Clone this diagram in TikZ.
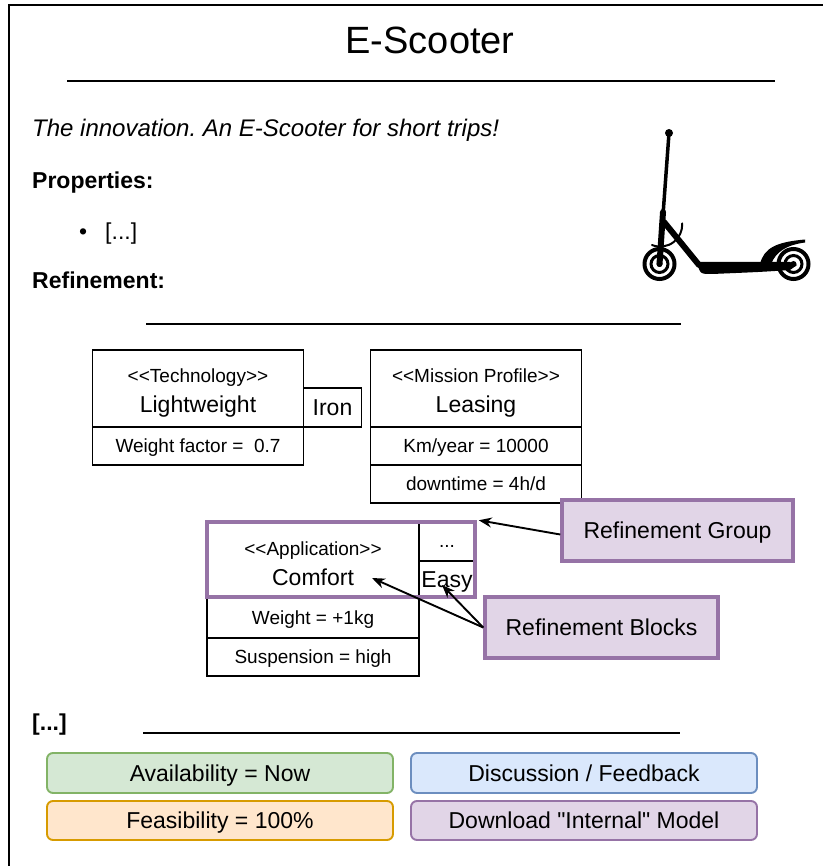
\documentclass[tikz,border=0pt]{standalone}
\usepackage{fontspec}
\setmainfont{Liberation Sans}[Ligatures=TeXOff]
\usetikzlibrary{arrows.meta}
\frenchspacing

\definecolor{grpfill}{HTML}{E1D5E7}
\definecolor{grpline}{HTML}{9673A6}
\definecolor{nowfill}{HTML}{D5E8D4}
\definecolor{nowline}{HTML}{82B366}
\definecolor{talkfill}{HTML}{DAE8FC}
\definecolor{talkline}{HTML}{6C8EBF}
\definecolor{feasfill}{HTML}{FFE6CC}
\definecolor{feasline}{HTML}{D79B00}

\newcommand{\stereo}[1]{{\fontsize{19}{30}\selectfont\rule{0pt}{23pt}<{}<#1>{}>}}
\newcommand{\bigtext}{\fontsize{23}{30}\selectfont}

\begin{document}
\begin{tikzpicture}[x=1pt,y=-1pt,
    cell/.style={draw,line width=1.9pt,inner sep=0pt,outer sep=0pt,fill=white,
      font=\fontsize{19}{30}\selectfont},
    attr/.style={cell,text height=13.7pt,text depth=0pt},
    note/.style={draw=grpline,fill=grpfill,line width=3.5pt,inner sep=0pt,
      minimum height=61,font=\bigtext,text height=16.5pt,text depth=0pt},
    button/.style={draw,line width=1.9pt,rounded corners=6pt,inner sep=0pt,
      minimum width=346,font=\bigtext,text height=16.5pt,text depth=0pt},
    pointer/.style={draw,line width=1.9pt,-{Stealth[length=13pt,width=10pt]}}]

      \useasboundingbox (0,0) rectangle (822,866);
      \draw[line width=2.4pt] (830,5) -| (9,875);

      \node[font=\fontsize{38}{44}\selectfont] (title) at (430,40) {E-Scooter};
      \draw[line width=1.9pt] (67,81) -- (775,81);

      \begin{scope}[every node/.style={anchor=west,inner sep=0pt,text height=16.5pt,
          text depth=0pt,font=\fontsize{23}{28}\selectfont}]
        \node[font=\fontsize{24}{28}\selectfont] (intro) at (32,128)
          {\itshape The innovation. An E-Scooter for short trips!};
        \node (props) at (32,180.5) {\bfseries Properties:};
        \node (item) at (79,231) {\textbullet\hspace{18pt}[...]};
        \node (refi) at (32,280.5) {\bfseries Refinement:};
        \node (more) at (32,722) {\bfseries [...]};
      \end{scope}

      \draw[line width=1.9pt] (146,324) -- (681,324);
      \draw[line width=1.9pt] (143,733) -- (680,733);

      \begin{scope}[every node/.style={cell}]
        \node[minimum width=211,minimum height=77,align=center] (tech) at (198,388.5)
          {\stereo{Technology}\\{\bigtext Lightweight}};
        \node[attr,minimum width=211,minimum height=38,anchor=north] (techw) at (tech.south)
          {Weight factor =\ \ 0.7};
        \node[minimum width=58,minimum height=39,anchor=south west,font=\bigtext,
          text height=16.5pt,text depth=0pt] (iron) at (tech.south east) {Iron};

        \node[minimum width=211,minimum height=77,align=center] (mp) at (476,388.5)
          {\stereo{Mission Profile}\\{\bigtext Leasing}};
        \node[attr,minimum width=211,minimum height=38,anchor=north] (mpkm) at (mp.south)
          {Km/year = 10000};
        \node[attr,minimum width=211,minimum height=38,anchor=north] (mpdown) at (mpkm.south)
          {downtime = 4h/d};

        \node[minimum width=212,minimum height=75,align=center] (app) at (313,559.5)
          {\stereo{Application}\\{\bigtext Comfort}};
        \node[attr,minimum width=212,minimum height=41,anchor=north] (appw) at (app.south)
          {Weight = +1kg};
        \node[attr,minimum width=212,minimum height=38,anchor=north] (apps) at (appw.south)
          {Suspension = high};
        \node[minimum width=56,minimum height=39,anchor=north west,text height=12pt,
          text depth=0pt] (dots) at (app.north east) {...};
        \node[minimum width=56,minimum height=36,anchor=north west,font=\bigtext,
          text height=16.5pt,text depth=0pt] (easy) at (dots.south west) {Easy};
      \end{scope}

      \node[draw=grpline,line width=3.5pt,minimum width=268,minimum height=75] (grp) at (341,559.5) {};

      \node[note,minimum width=231] (rgroup) at (677.5,530.5) {Refinement Group};
      \node[note,minimum width=233] (rblocks) at (601.5,627.5) {Refinement Blocks};

      \path[pointer] ([yshift=-4]rgroup.west) -- ([shift={(2,0)}]grp.north east);
      \path[pointer] (rblocks.west) -- ([shift={(59,18.5)}]app.center);
      \path[pointer] (rblocks.west) -- ([shift={(-5,6)}]easy.center);

      \node[button,fill=nowfill,draw=nowline,minimum height=40] (avail) at (220,773) {Availability = Now};
      \node[button,fill=talkfill,draw=talkline,minimum height=40] (talk) at (584,773) {Discussion / Feedback};
      \node[button,fill=feasfill,draw=feasline,minimum height=39] (feas) at (220,820.5) {Feasibility = 100\%};
      \node[button,fill=grpfill,draw=grpline,minimum height=39] (model) at (584,820.5) {Download "Internal" Model};

      \begin{scope}[line cap=round]
        \fill (669,133) circle (4);
        \draw[line width=3.5pt] (669,133) -- (663,215);
        \draw[line width=6pt] (663,212) -- (659.5,264);
        \draw[line width=6pt] (664,222) -- (699,265);
        \fill (697,262) -- (790,262) -- (797,265) -- (790,270)
          .. controls (760,272) .. (712,274) .. controls (700,274) .. (697,262) -- cycle;
        \fill (760,264) .. controls (764,248) and (776,242) .. (805,239.5)
          -- (805,242.5) .. controls (786,245) and (776,252) .. (771,264) -- cycle;
        \draw[line width=2pt] (652,245) arc (112:-3:22);
        \foreach \cx in {659.5,793.5} {
          \draw[line width=4pt] (\cx,264) circle (15);
          \draw[line width=3pt] (\cx,264) circle (8.5);
          \fill (\cx,264) circle (3);
        }
      \end{scope}

    \end{tikzpicture}
\end{document}
